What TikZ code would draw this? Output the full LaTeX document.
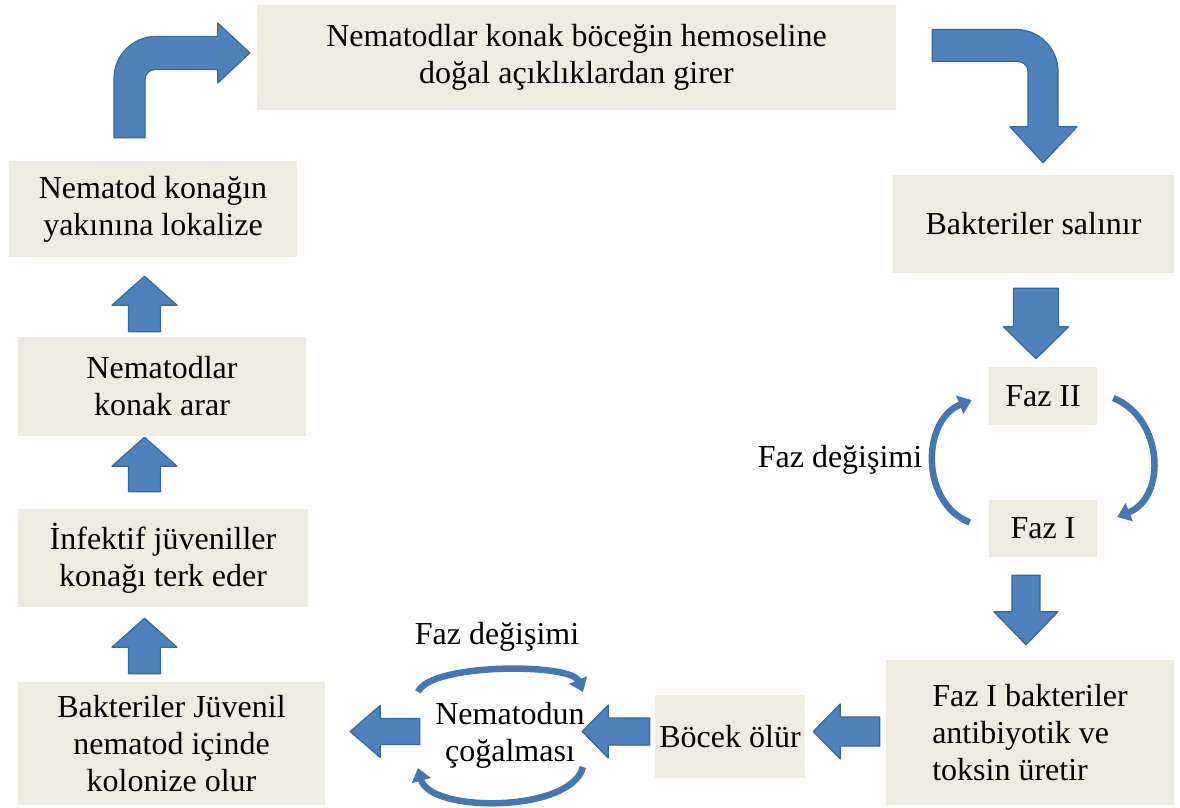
\documentclass[tikz,border=0pt]{standalone}
\usepackage{fontspec}
\setmainfont{Liberation Serif}
\usetikzlibrary{calc,arrows.meta}
\definecolor{boxFill}{HTML}{EEECE1}
\definecolor{arrowFill}{HTML}{4F81BD}
\definecolor{arrowEdge}{HTML}{3A6699}
\definecolor{curveFill}{HTML}{4677B3}
%%
%% A block arrow from #1 to #2: shaft half width #3, head half width #4, head length #5.
\newcommand{\fatArrow}[5]{%%
  \coordinate (hb) at ($(#2)!#5pt!(#1)$);
  \filldraw[arrowStyle] ($(#1)!#3pt!90:(#2)$) -- ($(hb)!#3pt!90:(#2)$)
    -- ($(hb)!#4pt!90:(#2)$) -- (#2) -- ($(hb)!#4pt!-90:(#2)$)
    -- ($(hb)!#3pt!-90:(#2)$) -- ($(#1)!#3pt!-90:(#2)$) -- cycle;
}

\begin{document}
\begin{tikzpicture}[x=1pt,y=1pt,%%
  boxStyle/.style={fill=boxFill,inner sep=0pt,align=center,font=\fontsize{32}{37}\selectfont},%%
  labelStyle/.style={inner sep=0pt,align=center,font=\fontsize{32}{37}\selectfont},%%
  arrowStyle/.style={fill=arrowFill,draw=arrowEdge,line width=1.2pt,line join=round},%%
  curveStyle/.style={draw=curveFill,line width=6.5pt,-{Triangle[length=13pt,width=19pt]}}
]
\useasboundingbox (0,0) rectangle (1180,807);
%%
%% The boxes.
\node[boxStyle,minimum width=639pt,minimum height=105pt] (girer) at (576.5,749.5)
  {Nematodlar konak böceğin hemoseline\\doğal açıklıklardan girer};
\node[boxStyle,minimum width=288pt,minimum height=96pt] (lokalize) at (153,598)
  {Nematod konağın\\yakınına lokalize};
\node[boxStyle,minimum width=288pt,minimum height=99pt] (arar) at (162,420.5)
  {Nematodlar\\konak arar};
\node[boxStyle,minimum width=290pt,minimum height=98pt] (terk) at (163,249)
  {İnfektif jüveniller\\konağı terk eder};
\node[boxStyle,minimum width=307pt,minimum height=123pt] (kolonize) at (171.5,63.5)
  {Bakteriler Jüvenil\\nematod içinde\\kolonize olur};
\node[boxStyle,minimum width=281pt,minimum height=98pt] (salinir) at (1033.5,583)
  {Bakteriler salınır};
\node[boxStyle,minimum width=108pt,minimum height=58pt] (fazII) at (1043,411) {Faz II};
\node[boxStyle,minimum width=108pt,minimum height=57pt] (fazI) at (1043,278.5) {Faz I};
\node[boxStyle,minimum width=288pt,minimum height=145pt,align=left] (toksin) at (1030,74.5)
  {Faz I bakteriler\\antibiyotik ve\\toksin üretir};
\node[boxStyle,minimum width=150pt,minimum height=83pt] (olur) at (730,70.5) {Böcek ölür};
\node[labelStyle,minimum width=160pt] (cogalma) at (510,72) {Nematodun\\çoğalması};
%%
%% The labels.
\node[labelStyle] (fazLabelR) at (840,347) {Faz değişimi};
\node[labelStyle] (fazLabelB) at (497,170) {Faz değişimi};
%%
%% Straight block arrows.
\coordinate (colL) at (144.5,0);
\coordinate (u1a) at ($(colL |- arar.north)+(0,5)$);
\coordinate (u1b) at ($(colL |- lokalize.south)+(0,-19)$);
\coordinate (u2a) at ($(colL |- terk.north)+(0,17)$);
\coordinate (u2b) at ($(colL |- arar.south)+(0,-1)$);
\coordinate (u3a) at ($(colL |- kolonize.north)+(0,8)$);
\coordinate (u3b) at ($(colL |- terk.south)+(0,-11)$);
\coordinate (d1a) at ($(salinir.south)+(2.5,-15)$);
\coordinate (d1b) at ($(fazII.north)+(-7,8)$);
\coordinate (d2a) at ($(fazI.south)+(-17,-18)$);
\coordinate (d2b) at ($(toksin.north)+(-4,15)$);
\coordinate (l1a) at ($(olur.east -| toksin.west)+(-6,5)$);
\coordinate (l1b) at ($(olur.east)+(8,5)$);
\coordinate (l2a) at ($(olur.west)+(-5,5)$);
\coordinate (l2b) at ($(olur.west -| cogalma.east)+(-8,5)$);
\coordinate (l3a) at ($(olur.west -| cogalma.west)+(-10,5)$);
\coordinate (l3b) at ($(olur.west -| kolonize.east)+(25,5)$);
\fatArrow{u1a}{u1b}{16}{32.5}{29}
\fatArrow{u2a}{u2b}{16}{32.5}{29}
\fatArrow{u3a}{u3b}{16}{32.5}{29}
\fatArrow{d1a}{d1b}{22.5}{32.5}{32}
\fatArrow{d2a}{d2b}{14}{32}{33}
\fatArrow{l1a}{l1b}{14.5}{27.5}{27}
\fatArrow{l2a}{l2b}{13.5}{26.5}{26}
\fatArrow{l3a}{l3b}{13}{26}{30}
%%
%% Bent block arrows round the top box.
\filldraw[arrowStyle] let \p1=($(lokalize.north)+(-23.5,23)$), \p2=($(girer.west)+(-7,4.5)$) in
  (\x1-15.5pt,\y1) -- (\x1-15.5pt,\y2-25.5pt) arc[start angle=180,end angle=90,radius=42pt]
  -- (\x2-32pt,\y2+16.5pt) -- (\x2-32pt,\y2+30pt) -- (\p2) -- (\x2-32pt,\y2-30pt)
  -- (\x2-32pt,\y2-16.5pt) -- (\x1+25.5pt,\y2-16.5pt) arc[start angle=90,end angle=180,radius=10pt]
  -- (\x1+15.5pt,\y1) -- cycle;
\filldraw[arrowStyle] let \p1=($(girer.east)+(36,12)$), \p2=($(salinir.north)+(9.5,12)$) in
  (\x1,\y1+16pt) -- (\x2-27pt,\y1+16pt) arc[start angle=90,end angle=0,radius=42pt]
  -- (\x2+15pt,\y2+36pt) -- (\x2+34pt,\y2+36pt) -- (\p2) -- (\x2-33pt,\y2+36pt)
  -- (\x2-15pt,\y2+36pt) -- (\x2-15pt,\y1-26pt) arc[start angle=0,end angle=90,radius=10pt]
  -- (\x1,\y1-16pt) -- cycle;
%%
%% Phase change loops.
\draw[curveStyle] ($(fazI.west)+(-19,6)$) .. controls +(-50,20) and +(-50,-20) .. ($(fazII.west)+(-17,-4)$);
\draw[curveStyle] ($(fazII.east)+(16,-2)$) .. controls +(50,-20) and +(50,20) .. ($(fazI.east)+(20,11.5)$);
\draw[curveStyle] ($(cogalma)+(-92,43)$) .. controls +(12,29) and +(-12,29) .. ($(cogalma)+(73,43)$);
\draw[curveStyle] ($(cogalma)+(73,-32)$) .. controls +(-12,-46) and +(12,-45) .. ($(cogalma)+(-92,-33)$);
\end{tikzpicture}
\end{document}
